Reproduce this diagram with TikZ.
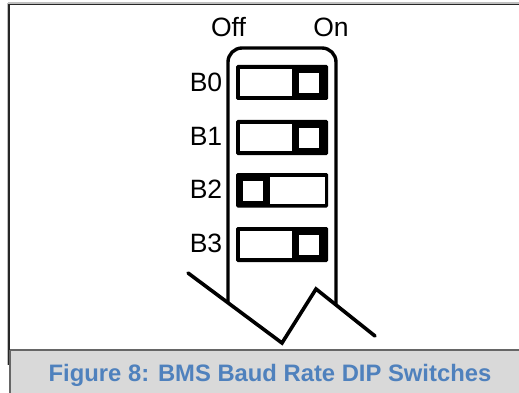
\documentclass[tikz,border=0pt]{standalone}
\usepackage{fontspec}
\setmainfont{Liberation Sans}
\definecolor{capblue}{HTML}{4F81BD}
\definecolor{capgray}{HTML}{D9D9D9}
\tikzset{
  x=1pt,y=-1pt,
  lbl/.style={inner sep=0pt,anchor=base,font=\fontsize{26.5}{26.5}\selectfont},
  body/.style={draw=black,line width=3.4pt,line join=round,rounded corners=14pt},
  zig/.style={draw=black,line width=3.6pt,line cap=round,line join=miter},
  frame/.style={draw=black!85,line width=1.1pt},
  halo/.style={draw=black!25,line width=1.2pt},
}
\newcommand{\dipon}[2]{% top, bottom
  \fill[black,rounded corners=1.5pt] (236,#1) rectangle (328,#2);
  \fill[white] (239.5,#1+3.7) rectangle (292,#2-3.7);
  \fill[white] (299,#1+7.7) rectangle (319,#1+27.7);
}
\newcommand{\dipoff}[2]{%
  \fill[black,rounded corners=1.5pt] (236,#1) rectangle (328,#2);
  \fill[white] (270,#1+3.7) rectangle (324.5,#2-3.7);
  \fill[white] (243,#1+7.7) rectangle (263,#1+27.7);
}
\begin{document}
\begin{tikzpicture}
\useasboundingbox (0,0) rectangle (519,393);
\fill[white] (0,0) rectangle (519,393);
\fill[capgray] (10,350) rectangle (519,393);
\draw[halo] (8,3) -- (519,3);
\draw[halo] (8,3) -- (8,365);
\draw[frame] (9,4.2) -- (519,4.2);
\draw[frame] (9,4.2) -- (9,365);
\draw[black!60,line width=1.1pt] (10,350) -- (519,350);
\draw[black!60,line width=1.6pt] (10,350) -- (10,393);
% body
\draw[body] (228,303) -- (228,48) -- (336,48) -- (336,305);
\dipon{65}{100}
\dipon{120}{155}
\dipoff{173}{207.5}
\dipon{227}{262}
\draw[zig] (188,273) -- (282,343) -- (316,289) -- (375,336);
\node[lbl] (off) at (228.5,37) {Off};
\node[lbl] (on) at (331,37) {On};
\node[lbl] (b0) at (206,92) {B0};
\node[lbl] (b1) at (206,146) {B1};
\node[lbl] (b2) at (206,198.5) {B2};
\node[lbl] (b3) at (206,252.5) {B3};
\node[inner sep=0pt,anchor=base,text=capblue,font=\fontsize{23.8}{24}\selectfont\bfseries] (cap) at (270,381) {Figure 8: BMS Baud Rate DIP Switches};
\end{tikzpicture}
\end{document}
